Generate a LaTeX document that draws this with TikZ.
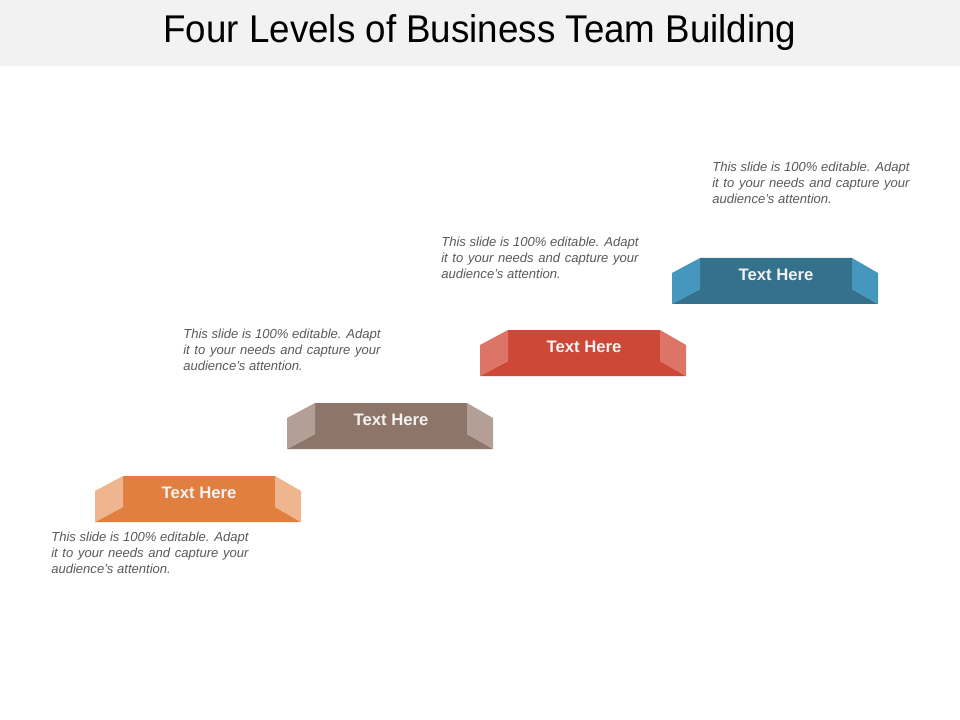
\documentclass[tikz,border=0pt]{standalone}
\usepackage{fontspec}
\setmainfont{Liberation Sans}
\newfontfamily\headfont[FakeStretch=0.95]{Liberation Sans}
\usepackage{tikz}

\definecolor{headGray}{HTML}{F2F2F2}
\definecolor{noteGray}{HTML}{595959}
\definecolor{orangeMain}{HTML}{E07F3F}
\definecolor{orangeLight}{HTML}{EEB58F}
\definecolor{brownMain}{HTML}{8E7569}
\definecolor{brownLight}{HTML}{B49F97}
\definecolor{redMain}{HTML}{CD4837}
\definecolor{redLight}{HTML}{DC7467}
\definecolor{blueMain}{HTML}{33718C}
\definecolor{blueLight}{HTML}{4597BD}

\begin{document}
\begin{tikzpicture}[x=0.75pt, y=-0.75pt,
      title/.style = {font=\headfont\fontsize{29}{32}\selectfont, inner sep=0pt},
      ribbonlabel/.style = {font=\bfseries\fontsize{12.5}{14}\selectfont,
        text=white!95!black, inner sep=0pt},
      note/.style = {font=\itshape\fontsize{9.8}{12}\selectfont,
        text=noteGray, text width=148pt, align=justify,
        anchor=north west, inner sep=0pt}]
      \useasboundingbox (0,0) rectangle (960,720);
      \fill[headGray] (0,0) rectangle (960,66);
      \node[title, anchor=base] (heading) at (480,43) {Four Levels of Business Team Building};
      % the four steps
      \foreach \lx/\ty/\main/\light [count=\i] in
          {123/476/orangeMain/orangeLight, 315/403/brownMain/brownLight,
           508/330/redMain/redLight, 700/258/blueMain/blueLight}{
        \fill[\main] (\lx-28,\ty+46) -- (\lx,\ty+31) -- (\lx,\ty)
          -- (\lx+152,\ty) -- (\lx+152,\ty+31) -- (\lx+178,\ty+46) -- cycle;
        \fill[\light] (\lx-28,\ty+15) -- (\lx,\ty) -- (\lx,\ty+31)
          -- (\lx-28,\ty+46) -- cycle;
        \fill[\light] (\lx+152,\ty) -- (\lx+178,\ty+15) -- (\lx+178,\ty+46)
          -- (\lx+152,\ty+31) -- cycle;
        \node[ribbonlabel] (level\i) at (\lx+76,\ty+17) {Text Here};
      }
      % notes
      \node[note] (note1) at (51,532) {This slide is 100\% editable. Adapt it to your needs and capture your audience's attention.};
      \node[note] (note2) at (183,329) {This slide is 100\% editable. Adapt it to your needs and capture your audience's attention.};
      \node[note] (note3) at (441,237) {This slide is 100\% editable. Adapt it to your needs and capture your audience's attention.};
      \node[note] (note4) at (712,162) {This slide is 100\% editable. Adapt it to your needs and capture your audience's attention.};
\end{tikzpicture}
\end{document}
